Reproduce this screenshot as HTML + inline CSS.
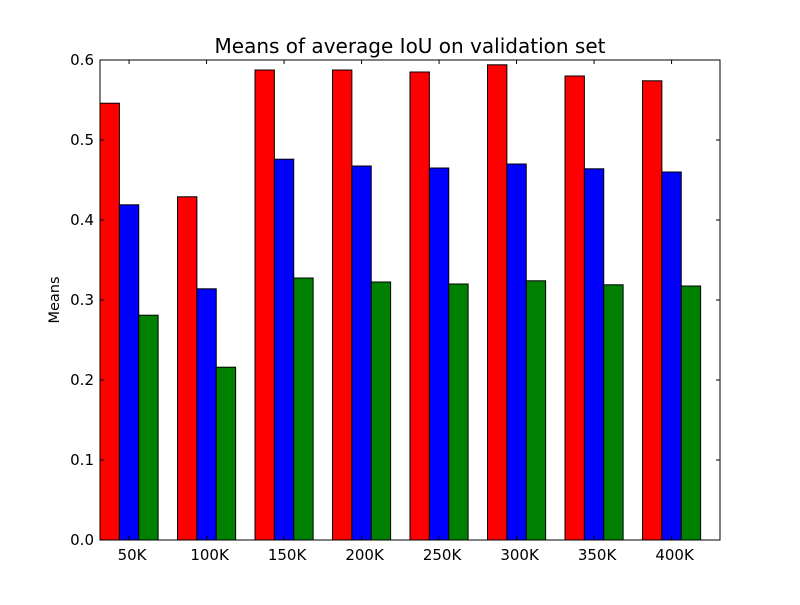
<!DOCTYPE html>
<html><head><meta charset="utf-8"><style>
body{margin:0;background:#fff;}
svg text{font-family:"DejaVu Sans","Liberation Sans",sans-serif;}
</style></head><body>
<svg id="chart" width="800" height="600" xmlns="http://www.w3.org/2000/svg">
<rect width="800" height="600" fill="#fff"/>
<text x="410" y="53" font-size="20" text-anchor="middle">Means of average IoU on validation set</text>
<text transform="translate(59,300) rotate(-90)" font-size="14.5" text-anchor="middle">Means</text>
<g id="bars"></g>
<g id="axes"></g>
</svg>
<script>
const categories=["50K","100K","150K","200K","250K","300K","350K","400K"];
const redValues=[0.546,0.429,0.5875,0.5875,0.585,0.594,0.58,0.574];
const blueValues=[0.419,0.314,0.476,0.4675,0.465,0.47,0.464,0.46];
const greenValues=[0.281,0.216,0.3275,0.3225,0.32,0.324,0.319,0.3175];
const yTicks=[0,0.1,0.2,0.3,0.4,0.5,0.6];
const yTickLabels=["0.0","0.1","0.2","0.3","0.4","0.5","0.6"];

const L=100,R=720,T=60,B=540,barW=0.25;
const xs=u=>L+u*(R-L)/categories.length;
const ys=v=>B-(v/0.6)*(B-T);
const NS="http://www.w3.org/2000/svg";
const bars=document.getElementById('bars'),axes=document.getElementById('axes');
function mk(tag,attrs,parent){const e=document.createElementNS(NS,tag);for(const k in attrs)e.setAttribute(k,attrs[k]);parent.appendChild(e);return e;}
const series=[[redValues,"#ff0000","red"],[blueValues,"#0000ff","blue"],[greenValues,"#008000","green"]];
series.forEach(([vals,col,nm],s)=>{
  vals.forEach((v,i)=>{
    const x0=xs(i+s*barW),x1=xs(i+(s+1)*barW);
    const r=mk('rect',{x:x0,y:ys(v),width:x1-x0,height:B-ys(v),fill:col,stroke:'#000','stroke-width':1},bars);
    
    
  });
});
const frame=mk('rect',{x:L,y:T,width:R-L,height:B-T,fill:'none',stroke:'#000','stroke-width':1},axes);


yTicks.forEach((v,i)=>{
  const y=ys(v);
  mk('line',{x1:L,x2:L+4,y1:y,y2:y,stroke:'#000'},axes);
  mk('line',{x1:R,x2:R-4,y1:y,y2:y,stroke:'#000'},axes);
  const t=mk('text',{x:L-6,y:y+5,'font-size':15,'text-anchor':'end'},axes);
  t.textContent=yTickLabels[i];
  
  
});
categories.forEach((c,i)=>{
  const x=xs(i+1.5*barW);
  mk('line',{x1:x,x2:x,y1:B,y2:B-4,stroke:'#000'},axes);
  mk('line',{x1:x,x2:x,y1:T,y2:T+4,stroke:'#000'},axes);
  const t=mk('text',{x:x+3,y:B+20,'font-size':15,'text-anchor':'middle'},axes);
  t.textContent=c;
  
  
});
</script>
</body></html>
